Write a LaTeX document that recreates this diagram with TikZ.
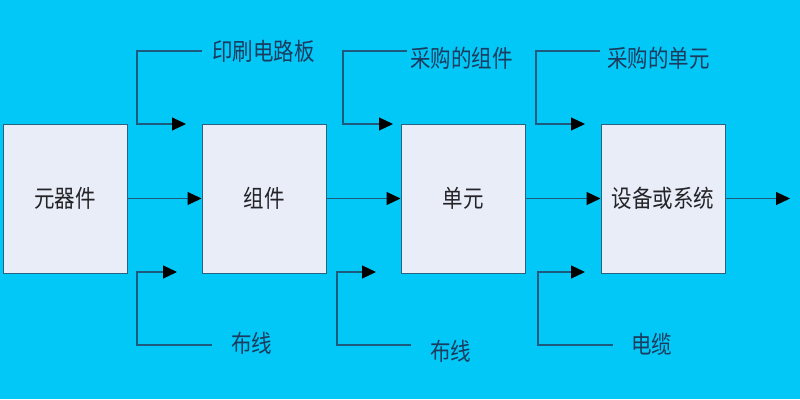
\documentclass[tikz,border=0pt]{standalone}
\usepackage{fontspec}
\newfontfamily\cjk{Noto Sans CJK SC}
\usetikzlibrary{arrows.meta}
\definecolor{bgcyan}{RGB}{2,200,248}
\definecolor{boxfill}{RGB}{233,237,247}
\definecolor{boxline}{RGB}{40,100,130}
\definecolor{wire}{RGB}{30,90,125}
\definecolor{labtext}{RGB}{25,60,95}
\definecolor{boxtext}{RGB}{35,35,40}
\newcommand{\tallcjk}[1]{\scalebox{1}[1.18]{#1}}
\tikzset{
  block/.style={draw=boxline, line width=1pt, fill=boxfill, minimum width=124pt, minimum height=149pt, inner sep=0pt, font=\cjk\fontsize{20.5}{20.5}\selectfont, text=boxtext},
  lab/.style={inner sep=0pt, anchor=west, font=\cjk\fontsize{20.5}{20.5}\selectfont, text=labtext},
  flow/.style={draw=wire, line width=1.1pt, -{Triangle[length=14pt,width=13pt,color=black]}},
}
\begin{document}
\begin{tikzpicture}[x=1pt,y=-1pt]
\fill[bgcyan] (0,0) rectangle (800,399);
\useasboundingbox (0,0) rectangle (800,399);
% blocks
\node[block] (b1) at (65,198.5) {\tallcjk{元器件}};
\node[block] (b2) at (264,198.5) {\tallcjk{组件}};
\node[block] (b3) at (463,198.5) {\tallcjk{单元}};
\node[block] (b4) at (663,198.5) {\tallcjk{设备或系统}};
% main flow
\coordinate (out) at (790,198.5);
\draw[flow] (b1.east) -- (b2.west);
\draw[flow] (b2.east) -- (b3.west);
\draw[flow] (b3.east) -- (b4.west);
\draw[flow] (b4.east) -- (out);
% top labels
\node[lab] (t1) at (212,51) {\tallcjk{印刷电路板}};
\node[lab] (t2) at (410,58) {\tallcjk{采购的组件}};
\node[lab] (t3) at (607,58) {\tallcjk{采购的单元}};
% bottom labels
\node[lab] (u1) at (231,343) {\tallcjk{布线}};
\node[lab] (u2) at (430,351) {\tallcjk{布线}};
\node[lab] (u3) at (631,344.5) {\tallcjk{电缆}};
% top feeds
\coordinate (t1s) at (202,51); \coordinate (t1e) at (186,124);
\coordinate (t2s) at (407,51); \coordinate (t2e) at (393,124);
\coordinate (t3s) at (600,51); \coordinate (t3e) at (585,124);
\draw[flow] (t1s) -- (137,51) -- (137,124) -- (t1e);
\draw[flow] (t2s) -- (343,51) -- (343,124) -- (t2e);
\draw[flow] (t3s) -- (536,51) -- (536,124) -- (t3e);
% bottom feeds
\coordinate (u1s) at (212,345); \coordinate (u1e) at (177,272);
\coordinate (u2s) at (411,345); \coordinate (u2e) at (376,272);
\coordinate (u3s) at (613,345); \coordinate (u3e) at (585,272);
\draw[flow] (u1s) -- (137,345) -- (137,272) -- (u1e);
\draw[flow] (u2s) -- (337,345) -- (337,272) -- (u2e);
\draw[flow] (u3s) -- (538,345) -- (538,272) -- (u3e);
\end{tikzpicture}
\end{document}
